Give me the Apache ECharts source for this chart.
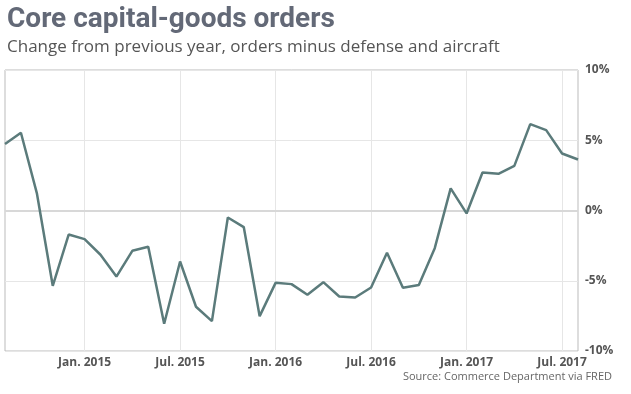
<!DOCTYPE html>
<html>
<head>
<meta charset="utf-8">
<script src="https://cdn.jsdelivr.net/npm/echarts@6/dist/echarts.min.js"></script>
<style>html,body{margin:0;padding:0;background:#fff}#c{width:631px;height:394px}</style>
</head>
<body>
<div id="c"></div>
<script>
var months = ["Aug. 2014","Sep. 2014","Oct. 2014","Nov. 2014","Dec. 2014",
  "Jan. 2015","Feb. 2015","Mar. 2015","Apr. 2015","May 2015","Jun. 2015","Jul. 2015","Aug. 2015","Sep. 2015","Oct. 2015","Nov. 2015","Dec. 2015",
  "Jan. 2016","Feb. 2016","Mar. 2016","Apr. 2016","May 2016","Jun. 2016","Jul. 2016","Aug. 2016","Sep. 2016","Oct. 2016","Nov. 2016","Dec. 2016",
  "Jan. 2017","Feb. 2017","Mar. 2017","Apr. 2017","May 2017","Jun. 2017","Jul. 2017","Aug. 2017"];
var orderChange = [4.73,5.53,1.24,-5.36,-1.71,
  -2.04,-3.15,-4.70,-2.87,-2.58,-8.06,-3.63,-6.85,-7.87,-0.50,-1.18,-7.52,
  -5.15,-5.24,-6.00,-5.10,-6.12,-6.19,-5.48,-3.01,-5.50,-5.31,-2.68,1.57,
  -0.21,2.70,2.61,3.18,6.15,5.72,4.06,3.63];
var yMin = -10, yMax = 10, yStep = 5;
var titleText = "Core capital-goods orders";
var subtitleText = "Change from previous year, orders minus defense and aircraft";
var sourceText = "Source: Commerce Department via FRED";

function isTick(i){ var m = months[i]; return m.indexOf("Jan.")===0 || m.indexOf("Jul.")===0; }

var chart = echarts.init(document.getElementById('c'));
chart.setOption({
  animation: false,
  backgroundColor: '#fff',
  grid: {left: 5, right: 53, top: 70, bottom: 43, show: true, borderColor: '#bbb', borderWidth: 1, backgroundColor: 'transparent'},
  xAxis: {
    type: 'category', data: months, boundaryGap: false,
    axisLine: {show: false}, axisTick: {show: false},
    axisLabel: {interval: function(i){return isTick(i);}, margin: 6, color: '#555', fontWeight: 'bold', fontSize: 12, fontFamily: 'Open Sans'},
    splitLine: {show: true, interval: function(i){return isTick(i);}, lineStyle: {color: '#e6e6e6', width: 1}}
  },
  yAxis: {
    type: 'value', position: 'right', min: yMin, max: yMax, interval: yStep,
    axisLine: {show: false}, axisTick: {show: false},
    axisLabel: {formatter: '{value}%', margin: 7, color: '#555', fontWeight: 'bold', fontSize: 12, fontFamily: 'Open Sans', padding: [3, 0, 0, 0]},
    splitLine: {show: true, lineStyle: {color: '#e6e6e6', width: 1}}
  },
  series: [{
    type: 'line', data: orderChange, symbol: 'none',
    lineStyle: {color: '#5b7b7b', width: 2.5},
    markLine: {silent: true, symbol: 'none', label: {show: false}, lineStyle: {color: '#d8d8d8', width: 2, type: 'solid'}, data: [{yAxis: 0}], z: 1},
    z: 3
  }],
  graphic: [
    {type: 'text', left: 7, top: 6, style: {text: titleText, font: 'bold 28px Roboto', fill: '#636977'}},
    {type: 'text', left: 7, top: 39, style: {text: subtitleText, font: '17px "Open Sans"', fill: '#555'}},
    {type: 'text', right: 19, top: 371, style: {text: sourceText, font: '11px "Open Sans"', fill: '#666'}}
  ]
});
</script>
</body>
</html>
